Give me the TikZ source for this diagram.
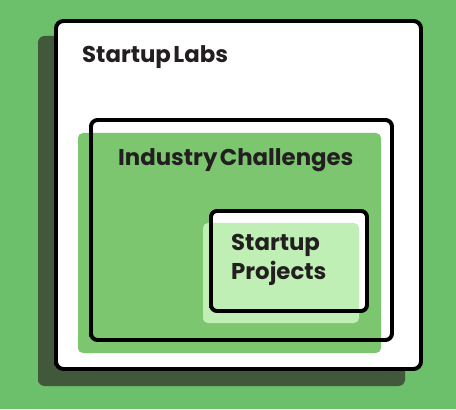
\documentclass[tikz,border=0pt]{standalone}
\usepackage{fontspec}
\setmainfont{Poppins}[WordSpace=0.5]
\usepackage{tkz-euclide}
\definecolor{bggreen}{HTML}{6CBF6B}
\definecolor{shadowgreen}{HTML}{41593A}
\definecolor{midgreen}{HTML}{7BC66E}
\definecolor{lightgreen}{HTML}{C0EFB5}
\definecolor{inkdark}{HTML}{231F20}
\tikzset{boxtitle/.style={anchor=base west,inner sep=0pt,text=inkdark,
    font=\fontsize{26}{32}\selectfont\bfseries}}

\begin{document}
\begin{tikzpicture}
\tkzDefPoint(0,0){bgA}
\tkzDefPoint(18.24,0){bgB}
\tkzDefPoint(18.24,16.36){bgC}
\tkzDefPoint(0,16.36){bgD}
\tkzFillPolygon[fill=bggreen](bgA,bgB,bgC,bgD)

% shadow of the lab box
  \tkzDefPoint(1.52,0.92){sA}
  \tkzDefPoint(16.2,0.92){sB}
  \tkzDefPoint(16.2,14.92){sC}
  \tkzDefPoint(1.52,14.92){sD}
\tkzFillPolygon[fill=shadowgreen,rounded corners=0.26cm](sA,sB,sC,sD)

\tkzDefPoint(2.24,1.6){labA}
\tkzDefPoint(16.84,1.6){labB}
\tkzDefPoint(16.84,15.52){labC}
\tkzDefPoint(2.24,15.52){labD}
\tkzDrawPolygon[line width=4.5pt,fill=white,rounded corners=0.3cm](labA,labB,labC,labD)

  \tkzDefPoint(3.28,13.84){tLab}
  \tkzLabelPoint[boxtitle](tLab){Startup Labs}

% industry challenges
  \tkzDefPoint(3.12,2.24){mA}
  \tkzDefPoint(15.24,2.24){mB}
  \tkzDefPoint(15.24,11.04){mC}
  \tkzDefPoint(3.12,11.04){mD}
\tkzFillPolygon[fill=midgreen,rounded corners=0.2cm](mA,mB,mC,mD)

\tkzDefPoint(3.64,2.76){indA}
\tkzDefPoint(15.68,2.76){indB}
\tkzDefPoint(15.68,11.56){indC}
\tkzDefPoint(3.64,11.56){indD}
\tkzDrawPolygon[line width=4.5pt,rounded corners=0.26cm](indA,indB,indC,indD)

  \tkzDefPoint(4.72,9.72){tInd}
  \tkzLabelPoint[boxtitle](tInd){Industry Challenges}

% startup projects
\tkzDefPoint(8.44,3.92){prA}
\tkzDefPoint(14.68,3.92){prB}
\tkzDefPoint(14.68,7.92){prC}
\tkzDefPoint(8.44,7.92){prD}
\tkzFillPolygon[fill=white,rounded corners=0.24cm](prA,prB,prC,prD)

  \tkzDefPoint(8.12,3.44){lA}
  \tkzDefPoint(14.36,3.44){lB}
  \tkzDefPoint(14.36,7.44){lC}
  \tkzDefPoint(8.12,7.44){lD}
\tkzFillPolygon[fill=lightgreen,rounded corners=0.2cm](lA,lB,lC,lD)

\tkzDrawPolygon[line width=4.5pt,rounded corners=0.24cm](prA,prB,prC,prD)

  \tkzDefPoint(9.24,6.32){tPr}
  \tkzLabelPoint[boxtitle](tPr){Startup}
  \tkzDefPoint(9.24,5.2){tPrb}
  \tkzLabelPoint[boxtitle](tPrb){Projects}

\end{tikzpicture}
\end{document}
